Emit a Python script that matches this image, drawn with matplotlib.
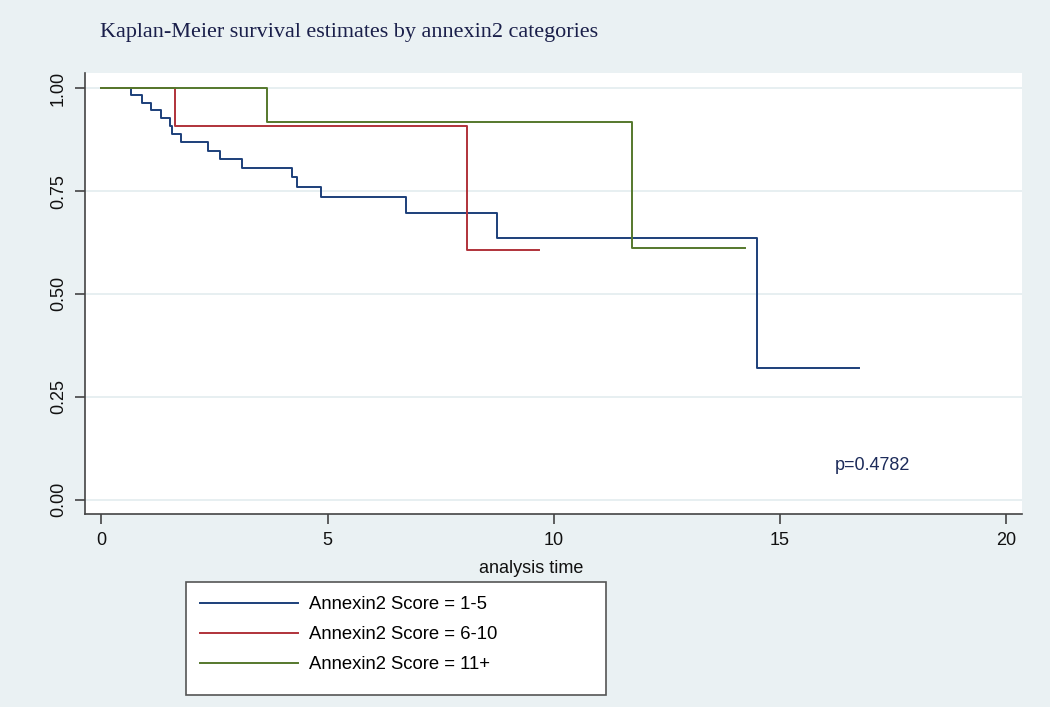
import matplotlib.pyplot as plt
from matplotlib.lines import Line2D
from matplotlib.patches import Rectangle

# Kaplan-Meier step curves (time, survival)
t_low = [0, 0.66, 0.91, 1.10, 1.33, 1.52, 1.56, 1.76, 2.35, 2.63, 3.11,
         4.22, 4.33, 4.86, 6.74, 8.75, 14.5, 16.75]
s_low = [1.0, 0.984, 0.964, 0.946, 0.927, 0.907, 0.889, 0.869, 0.848, 0.827, 0.807,
         0.783, 0.761, 0.735, 0.696, 0.636, 0.319, 0.319]

t_mid = [0, 1.64, 8.08, 9.67]
s_mid = [1.0, 0.909, 0.606, 0.606]

t_high = [0, 3.67, 11.73, 14.22]
s_high = [1.0, 0.917, 0.611, 0.611]

labels = ["Annexin2 Score = 1-5", "Annexin2 Score = 6-10", "Annexin2 Score = 11+"]
colors = ["#1c3f7a", "#b0323a", "#55782c"]

yticks = [0, 0.25, 0.5, 0.75, 1.0]
xticks = [0, 5, 10, 15, 20]

BG = "#eaf1f3"
GRID = "#e3ecef"
AXC = "#444444"

plt.rcParams["font.family"] = ["Liberation Sans", "DejaVu Sans"]

fig = plt.figure(figsize=(10.5, 7.07), dpi=100, facecolor=BG)
ax = fig.add_axes([85 / 1050, 1 - 514 / 707, (1022 - 85) / 1050, (514 - 73) / 707])
ax.set_facecolor("white")

for t, s, c in zip([t_low, t_mid, t_high], [s_low, s_mid, s_high], colors):
    ax.step(t, s, where="post", color=c, lw=1.4, zorder=3)

ax.set_xlim(-0.36, 20.35)
ax.set_ylim(-0.035, 1.037)
ax.set_yticks(yticks)
ax.set_yticklabels([f"{v:.2f}" for v in yticks], rotation=90, va="center")
ax.set_xticks(xticks)
ax.set_xticklabels([str(v) for v in xticks])
ax.grid(axis="y", color=GRID, lw=1.2)
ax.set_axisbelow(True)

for side in ["top", "right"]:
    ax.spines[side].set_visible(False)
for side in ["left", "bottom"]:
    ax.spines[side].set_color(AXC)
    ax.spines[side].set_linewidth(1.2)
ax.tick_params(axis="both", colors=AXC, length=7, width=1.2, labelsize=13,
               labelcolor="#111111", pad=6)

ax.set_xlabel("analysis time", fontsize=13, color="#111111")
ax.xaxis.set_label_coords(0.476, -0.105)

ax.text(17.05, 0.083, "p=0.4782", fontsize=13, color="#1c2b5a",
        ha="center", va="center")

fig.text(100 / 1050, 1 - 33 / 707, "Kaplan-Meier survival estimates by annexin2 categories",
         family="Liberation Serif", fontsize=15.9, color="#1a1f4a", va="center")

# legend box
fig.patches.append(Rectangle((186 / 1050, 1 - 695 / 707), (606 - 186) / 1050, (695 - 582) / 707,
                             transform=fig.transFigure, facecolor="white",
                             edgecolor="#555555", lw=1.2, zorder=0))
handles = [Line2D([], [], color=c, lw=1.4) for c in colors]
fig.legend(handles, labels, loc="upper left", bbox_to_anchor=(193 / 1050, 1 - 589 / 707),
           frameon=False, fontsize=13.3, handlelength=5.3, handletextpad=0.6,
           labelspacing=0.7, borderaxespad=0)

fig.savefig("out.png", dpi=100, facecolor=BG)
